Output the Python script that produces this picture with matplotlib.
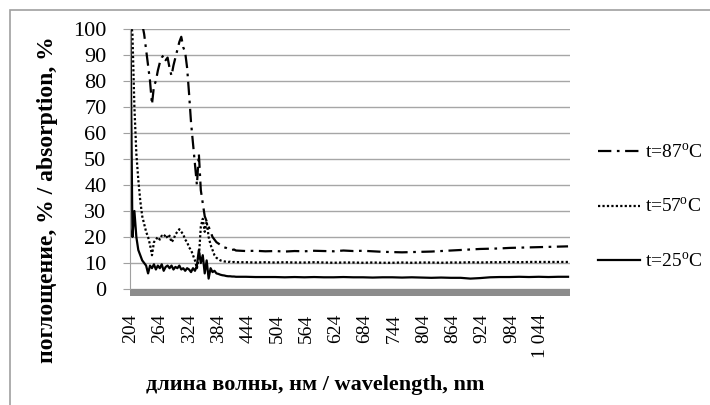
import matplotlib
matplotlib.use("Agg")
import matplotlib.pyplot as plt
from matplotlib.patches import Rectangle

plt.rcParams['font.family'] = ['Liberation Serif', 'DejaVu Serif']
plt.rcParams['mathtext.fontset'] = 'custom'
plt.rcParams['mathtext.rm'] = 'Liberation Serif'

# wavelength grid, nm
wl = list(range(204, 424, 4)) + list(range(440, 1101, 20))

# absorption, %
t87 = [130, 125, 120, 115, 110, 106, 102, 98, 92, 86, 80, 71, 78, 80, 84, 87,
       89, 90, 88, 89, 85, 82, 86, 89, 92, 95, 97, 93, 91, 85, 75, 64, 56, 48,
       40, 52, 38, 33, 28, 26, 24, 22, 20, 19, 18, 17.5, 17, 16.5, 16, 15.8,
       15.5, 15.3, 15, 15.2, 14.8,
       14.6, 14.7, 14.5, 14.6, 14.4, 14.6, 14.5, 14.7, 14.6, 14.5, 14.8, 14.6,
       14.7, 14.5, 14.3, 14.2, 14.1, 14.2, 14.3, 14.4, 14.6, 14.8, 15.0, 15.2,
       15.4, 15.5, 15.6, 15.8, 15.9, 16.0, 16.1, 16.2, 16.3, 16.4]
t57 = [105, 98, 70, 52, 42, 34, 28, 25, 22, 20, 17, 13, 18, 19, 20, 19, 20.5,
       20, 21, 19.5, 20.5, 18, 19, 21, 22, 23, 22, 21, 19, 18, 16, 15, 13, 11,
       8, 12, 24, 27, 22, 26, 20, 17, 15, 13, 12, 11.5, 11, 10.8, 10.6, 10.5,
       10.4, 10.5, 10.3, 10.4, 10.3,
       10.3, 10.2, 10.3, 10.2, 10.3, 10.2, 10.2, 10.3, 10.2, 10.1, 10.2, 10.2,
       10.1, 10.2, 10.1, 10.1, 10.2, 10.1, 10.2, 10.2, 10.1, 10.2, 10.2, 10.3,
       10.2, 10.3, 10.3, 10.4, 10.3, 10.4, 10.4, 10.4, 10.4, 10.4]
t25 = [100, 20, 30, 20, 15, 13, 11, 10, 9, 6, 9, 8, 9.5, 7.5, 9, 8, 9.5, 7,
       8.5, 9, 8, 9, 7.5, 8.5, 8, 9, 7.5, 8, 7, 8, 7.5, 6.5, 8, 7, 9, 15, 10,
       13, 6, 11, 4, 8, 6.5, 7, 6, 5.8, 5.5, 5.3, 5.2, 5.0, 4.9, 4.9, 4.8,
       4.8, 4.7,
       4.7, 4.6, 4.6, 4.6, 4.5, 4.6, 4.5, 4.6, 4.5, 4.5, 4.6, 4.5, 4.5, 4.4,
       4.5, 4.5, 4.4, 4.5, 4.4, 4.3, 4.4, 4.3, 4.3, 4.0, 4.2, 4.5, 4.6, 4.6,
       4.7, 4.6, 4.7, 4.6, 4.7, 4.7]

xticks = list(range(204, 1045, 60))
xticklabels = [str(v) if v < 1000 else '1 ' + str(v)[1:] for v in xticks]
yticks = list(range(0, 101, 10))

fig = plt.figure(figsize=(7.1, 4.05), dpi=100)
fig.patches.append(Rectangle((10 / 710, -0.1), 1.1, 1.1 - 10 / 405,
                             transform=fig.transFigure, fill=False,
                             edgecolor='#a0a0a0', lw=1.2))
ax = fig.add_axes([130 / 710, 1 - 289 / 405, 440 / 710, 260 / 405])

l25, = ax.plot(wl, t25, color='black', lw=1.6, ls='-')
l57, = ax.plot(wl, t57, color='black', lw=1.6, ls=(0, (1, 1)))
l87, = ax.plot(wl, t87, color='black', lw=1.6, ls=(0, (6, 2.5, 1.2, 2.5)))

ax.set_xlim(203, 1104)
ax.set_ylim(0, 100)
ax.set_yticks(yticks)
ax.set_xticks(xticks)
ax.set_xticklabels(xticklabels, rotation=90, va='top')
ax.tick_params(axis='y', labelsize=16, length=5, color='#a0a0a0', pad=12)
ax.tick_params(axis='x', labelsize=14, length=0, pad=18)
ax.grid(axis='y', color='#a6a6a6', lw=1)
ax.set_axisbelow(True)
for s in ['top', 'right', 'bottom']:
    ax.spines[s].set_visible(False)
ax.spines['left'].set_color('#a0a0a0')

# grey floor under the plot area
ax.add_patch(Rectangle((0, -7 / 260), 1, 7 / 260, transform=ax.transAxes,
                       clip_on=False, facecolor='#8c8c8c', edgecolor='none'))

fig.text(48 / 710, 1 - 200 / 405, 'поглощение, % / absorption, %',
         rotation=90, ha='center', va='center', fontsize=17, fontweight='bold')
fig.text(315 / 710, 1 - 385 / 405, 'длина волны, нм / wavelength, nm',
         ha='center', va='center', fontsize=16, fontweight='bold')

ax.legend([l87, l57, l25],
          [r't=87$^{\mathrm{o}}$C', r't=57$^{\mathrm{o}}$C', r't=25$^{\mathrm{o}}$C'],
          loc='center left', bbox_to_anchor=(582 / 710, 1 - 207 / 405),
          bbox_transform=fig.transFigure, frameon=False, fontsize=14,
          handlelength=2.2, handletextpad=0.25, labelspacing=1.8,
          borderpad=0.3)

fig.savefig('out.png', dpi=100)
